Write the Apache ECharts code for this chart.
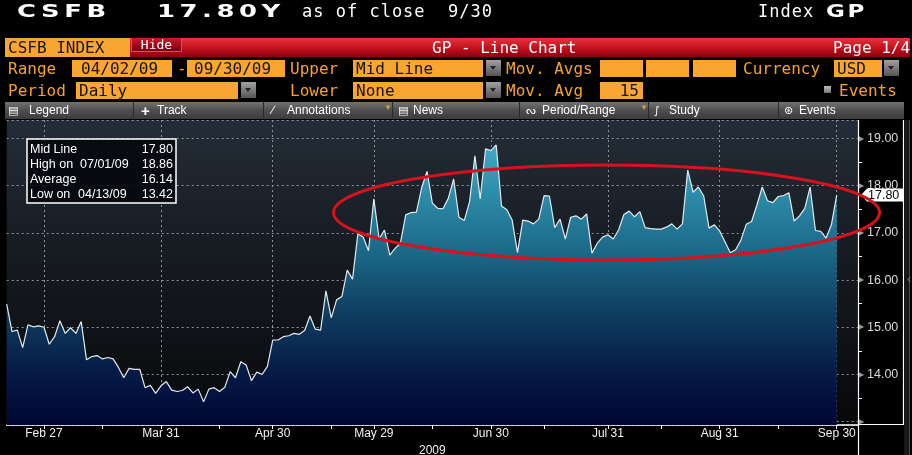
<!DOCTYPE html>
<html><head><meta charset="utf-8">
<script src="https://cdn.jsdelivr.net/npm/echarts@6/dist/echarts.min.js"></script>
<style>
html,body{margin:0;padding:0;background:#000;width:912px;height:455px;overflow:hidden;}
#chart{position:absolute;left:0;top:0;width:912px;height:455px;z-index:0;}
.a{position:absolute;white-space:pre;z-index:10;}
.mono{font-family:"DejaVu Sans Mono",monospace;}
.hdr{color:#fff;font-size:17px;line-height:17px;top:3px;}
.big{font-family:"DejaVu Sans",sans-serif;font-weight:bold;letter-spacing:3px;transform:scaleX(1.52);transform-origin:left top;}
.lab{color:#f7a22c;font-size:16px;line-height:17px;}
.fld{background:#f9a531;color:#141414;font-size:16px;line-height:17px;height:17px;box-sizing:border-box;}
.dd{background:linear-gradient(#a0a0a0,#555);width:15px;height:16px;}
.dd:after{content:'';position:absolute;left:4px;top:6px;border-left:3.5px solid transparent;border-right:3.5px solid transparent;border-top:4px solid #222;}
.tb{color:#fff;font-family:"Liberation Sans",Arial,sans-serif;font-size:12px;line-height:17px;top:102px;}
.sep{position:absolute;top:102px;width:1px;height:17px;background:#2a2a2a;z-index:11;}
.ico{font-family:"DejaVu Sans",sans-serif;font-size:11px;}
.tri{color:#c9a040;font-size:8px;top:103px;}
</style></head>
<body>
<div id="chart"></div>

<!-- header -->
<div class="a hdr big" style="left:17px;">CSFB</div>
<div class="a hdr big" style="left:157px;">17.80Y</div>
<div class="a hdr mono" style="left:302px;letter-spacing:1px;">as of close  9/30</div>
<div class="a hdr mono" style="left:758px;letter-spacing:1px;">Index</div>
<div class="a hdr big" style="left:826px;letter-spacing:2px;transform:scaleX(1.35);">GP</div>

<!-- red title bar -->
<div class="a" style="left:5px;top:38px;width:905px;height:19px;background:linear-gradient(#e5343c,#c0101c 55%,#8c0010);"></div>
<div class="a mono" style="left:5px;top:38px;width:125px;height:19px;background:#f9a531;color:#141414;font-size:16px;line-height:19px;padding-left:3px;box-sizing:border-box;">CSFB INDEX</div>
<div class="a mono" style="left:131px;top:38px;width:51px;height:14px;background:linear-gradient(#c81a28,#7a0010);border:1px solid #d85060;border-top:none;color:#fff;font-size:13px;line-height:14px;text-align:center;box-sizing:border-box;">Hide</div>
<div class="a mono" style="left:432px;top:38px;color:#fff;font-size:16px;line-height:19px;">GP - Line Chart</div>
<div class="a mono" style="left:833px;top:38px;color:#fff;font-size:16px;line-height:19px;">Page 1/4</div>

<!-- row 2 -->
<div class="a mono lab" style="left:8px;top:60px;">Range</div>
<div class="a mono fld" style="left:72px;top:60px;width:100px;padding-left:9px;">04/02/09</div>
<div class="a mono lab" style="left:177px;top:60px;">-</div>
<div class="a mono fld" style="left:187px;top:60px;width:98px;padding-left:7px;">09/30/09</div>
<div class="a mono lab" style="left:290px;top:60px;">Upper</div>
<div class="a mono fld" style="left:353px;top:60px;width:130px;padding-left:3px;">Mid Line</div>
<div class="a dd" style="left:486px;top:60px;"></div>
<div class="a mono lab" style="left:506px;top:60px;">Mov. Avgs</div>
<div class="a mono fld" style="left:600px;top:60px;width:43px;"></div>
<div class="a mono fld" style="left:646px;top:60px;width:43px;"></div>
<div class="a mono fld" style="left:693px;top:60px;width:43px;"></div>
<div class="a mono lab" style="left:743px;top:60px;">Currency</div>
<div class="a mono fld" style="left:834px;top:60px;width:48px;padding-left:3px;">USD</div>
<div class="a dd" style="left:884px;top:60px;"></div>

<!-- row 3 -->
<div class="a mono lab" style="left:8px;top:82px;">Period</div>
<div class="a mono fld" style="left:76px;top:82px;width:162px;padding-left:3px;">Daily</div>
<div class="a dd" style="left:241px;top:82px;"></div>
<div class="a mono lab" style="left:290px;top:82px;">Lower</div>
<div class="a mono fld" style="left:353px;top:82px;width:130px;padding-left:3px;">None</div>
<div class="a dd" style="left:486px;top:82px;"></div>
<div class="a mono lab" style="left:506px;top:82px;">Mov. Avg</div>
<div class="a mono fld" style="left:600px;top:82px;width:43px;text-align:right;padding-right:4px;">15</div>
<div class="a" style="left:824px;top:86px;width:7px;height:7px;background:linear-gradient(#bbb,#777);"></div>
<div class="a mono lab" style="left:839px;top:82px;">Events</div>

<!-- toolbar -->
<div class="a" style="left:5px;top:102px;width:899px;height:17px;background:linear-gradient(#727272,#4e4e4e 50%,#3c3c3c);"></div>
<div class="a tb ico" style="left:8px;">▤</div>
<div class="a tb" style="left:29px;">Legend</div>
<div class="sep" style="left:133px;"></div>
<div class="a tb" style="left:141px;font-size:15px;font-weight:bold;">+</div>
<div class="a tb" style="left:157px;">Track</div>
<div class="sep" style="left:263px;"></div>
<div class="a tb" style="left:272px;">∕</div>
<div class="a tb" style="left:287px;">Annotations</div>
<div class="a tri" style="left:384px;">▼</div>
<div class="sep" style="left:392px;"></div>
<div class="a tb ico" style="left:398px;">▤</div>
<div class="a tb" style="left:413px;">News</div>
<div class="sep" style="left:519px;"></div>
<div class="a tb ico" style="left:526px;">ᔓ</div>
<div class="a tb" style="left:542px;">Period/Range</div>
<div class="a tri" style="left:640px;">▼</div>
<div class="sep" style="left:648px;"></div>
<div class="a tb ico" style="left:654px;">∫</div>
<div class="a tb" style="left:669px;">Study</div>
<div class="sep" style="left:778px;"></div>
<div class="a tb ico" style="left:784px;">⊛</div>
<div class="a tb" style="left:799px;">Events</div>

<!-- right strip -->
<div class="a" style="left:904px;top:120px;width:5px;height:335px;background:#171717;"></div>
<div class="a" style="left:909px;top:120px;width:1px;height:335px;background:#4a4a4a;"></div>
<div class="a" style="left:907px;top:271px;color:#777;font-family:'Liberation Sans';font-size:13px;">‹</div>

<svg class="a" style="left:0;top:0;z-index:6;pointer-events:none;" width="912" height="455">
  <ellipse cx="606.5" cy="212.5" rx="273" ry="47.5" fill="none" stroke="#d8121c" stroke-width="3"/>
</svg>

<script>
// ---- data ----
const tickIndex  = [7, 29, 50, 69, 91, 113, 134, 156];
const tickLabels = ['Feb 27', 'Mar 31', 'Apr 30', 'May 29', 'Jun 30', 'Jul 31', 'Aug 31', 'Sep 30'];
const midMonthIndex = [18, 40, 61, 80, 101, 123, 145];
const axisYear = '2009';
const slotCount = 161;           // trading-day slots across the plot
const categories = Array.from({length: slotCount}, (_, i) => 'd' + i);

const midLine = [
  15.49, 14.91, 14.94, 14.57, 15.05, 15.01, 15.03, 15.00, 14.64, 14.80,
  15.14, 14.87, 14.99, 14.87, 15.12, 14.31, 14.38, 14.40, 14.33, 14.36,
  14.33, 14.15, 13.93, 14.13, 14.11, 14.11, 13.72, 13.77, 13.60, 13.76,
  13.85, 13.67, 13.64, 13.66, 13.74, 13.61, 13.69, 13.42, 13.69, 13.72,
  13.64, 13.73, 14.06, 13.93, 14.27, 14.20, 13.87, 14.05, 14.00, 14.17,
  14.73, 14.73, 14.80, 14.82, 14.87, 14.85, 14.93, 15.24, 14.96, 14.94,
  15.77, 15.20, 15.58, 15.65, 16.21, 16.02, 16.98, 16.91, 16.62, 17.72,
  16.87, 17.06, 16.53, 16.67, 16.78, 17.38, 17.43, 17.44, 17.96, 18.30,
  17.63, 17.52, 17.51, 17.73, 18.14, 17.33, 17.26, 17.66, 18.63, 17.72,
  18.78, 18.74, 18.86, 17.57, 17.49, 17.27, 16.58, 17.27, 17.25, 17.19,
  17.29, 17.79, 17.78, 17.11, 17.29, 16.87, 17.33, 17.36, 17.29, 17.40,
  16.57, 16.78, 16.91, 16.96, 16.87, 17.06, 17.39, 17.46, 17.34, 17.45,
  17.11, 17.09, 17.08, 17.08, 17.12, 17.19, 17.08, 17.19, 18.33, 17.86,
  17.97, 17.78, 17.10, 17.17, 17.04, 16.81, 16.58, 16.64, 16.85, 17.18,
  17.24, 17.59, 17.97, 17.68, 17.64, 17.77, 17.79, 17.85, 17.25, 17.36,
  17.52, 17.97, 17.05, 17.03, 16.89, 17.17, 17.80
];
const lastValue = 17.80;
const statNames  = ['Mid Line', 'High on', 'Average', 'Low on'];
const statDates  = ['', '07/01/09', '', '04/13/09'];
const statValues = ['17.80', '18.86', '16.14', '13.42'];
const yMin = 12.93, yMax = 19.39;

// ---- chart ----
const G = echarts.graphic;
const chart = echarts.init(document.getElementById('chart'), null, {renderer: 'canvas'});
const font = '"Liberation Sans", Arial, sans-serif';

const legendEls = [{
  type: 'rect', shape: {x: 27, y: 139, width: 149, height: 64},
  style: {fill: 'rgba(5,7,11,0.88)', stroke: '#ffffff', lineWidth: 1.5}, z: 20
}];
statNames.forEach((n, i) => {
  const y = 149.5 + i * 15;
  legendEls.push({type: 'text', x: 30, y: y, z: 21,
    style: {text: n, fill: '#fff', font: '12.5px ' + font, textVerticalAlign: 'middle', verticalAlign: 'middle'}});
  if (statDates[i]) legendEls.push({type: 'text', x: i === 1 ? 80 : 78, y: y, z: 21,
    style: {text: statDates[i], fill: '#fff', font: '12.5px ' + font, textVerticalAlign: 'middle', verticalAlign: 'middle'}});
  legendEls.push({type: 'text', x: 173, y: y, z: 21,
    style: {text: statValues[i], fill: '#fff', font: '12.5px ' + font, textAlign: 'right', align: 'right', textVerticalAlign: 'middle', verticalAlign: 'middle'}});
});
const frameEls = [
  {type: 'line', shape: {x1: 858.5, y1: 120, x2: 858.5, y2: 455}, style: {stroke: '#fff', lineWidth: 1.2}, z: 15},
  {type: 'line', shape: {x1: 903.5, y1: 120, x2: 903.5, y2: 424}, style: {stroke: '#fff', lineWidth: 1.2}, z: 15},
  {type: 'line', shape: {x1: 858, y1: 424.5, x2: 904, y2: 424.5}, style: {stroke: '#fff', lineWidth: 1.2}, z: 15}
];

const dash = {type: [2, 3], color: '#8d939b', width: 1};

chart.setOption({
  backgroundColor: '#000',
  animation: false,
  grid: {
    left: 6.7, right: 54, top: 120, bottom: 30, show: true, borderWidth: 0,
    containLabel: false, outerBoundsMode: 'none',
    backgroundColor: new G.LinearGradient(0, 0, 0, 1, [
      {offset: 0, color: '#232c37'}, {offset: 0.5, color: '#15191f'}, {offset: 1, color: '#07080a'}
    ])
  },
  xAxis: {
    type: 'category', data: categories, boundaryGap: false,
    axisLine: {lineStyle: {color: '#ffffff', width: 1.5}},
    axisTick: {
      interval: (i) => tickIndex.includes(i) || midMonthIndex.includes(i),
      length: 4, lineStyle: {color: '#ffffff'}
    },
    axisLabel: {
      interval: (i) => tickIndex.includes(i),
      formatter: (v, i) => { const k = tickIndex.indexOf(i); return k >= 0 ? tickLabels[k] : ''; },
      color: '#f2f2f2', fontSize: 12, fontFamily: font, margin: 3
    },
    splitLine: {show: true, interval: (i) => tickIndex.includes(i), lineStyle: dash},
    name: axisYear, nameLocation: 'middle', nameGap: 16,
    nameTextStyle: {color: '#f2f2f2', fontSize: 12, fontFamily: font}
  },
  yAxis: {
    type: 'value', position: 'right', min: yMin, max: yMax, splitNumber: 6, scale: true,
    axisLine: {show: false}, axisTick: {show: false},
    minorTick: {show: true, splitNumber: 2, length: 4, lineStyle: {color: '#ffffff'}},
    splitLine: {lineStyle: dash},
    axisLabel: {
      showMinLabel: false, showMaxLabel: false, margin: 0,
      formatter: (v) => Math.abs(v - 13) < 1e-6 ? '{t|▶}' : '{t|▶}{v|' + v.toFixed(2) + '}',
      rich: {
        t: {color: '#9a9a9a', fontSize: 8, padding: [0, 3, 0, 0]},
        v: {color: '#dadada', fontSize: 12.5, fontFamily: font}
      }
    }
  },
  series: [{
    type: 'line', data: midLine, symbol: 'none', z: 3,
    lineStyle: {color: '#e2eaf0', width: 1.2},
    areaStyle: {
      origin: 'start', opacity: 1,
      color: new G.LinearGradient(0, 0, 0, 1, [
        {offset: 0, color: '#40aac6'}, {offset: 0.2, color: '#2a88a5'},
        {offset: 0.4, color: '#1a6584'}, {offset: 0.6, color: '#0f3e61'},
        {offset: 0.8, color: '#061c47'}, {offset: 1, color: '#010632'}
      ])
    }
  }],
  graphic: legendEls.concat(frameEls)
});

// last-value flag on the right axis, positioned through the y-axis scale
const yLast = chart.convertToPixel({yAxisIndex: 0}, lastValue);
const flagEls = [
  {type: 'polygon', z: 30,
    shape: {points: [[861, yLast], [867, yLast - 6.5], [903, yLast - 6.5], [903, yLast + 6.5], [867, yLast + 6.5]]},
    style: {fill: '#ffffff'}},
  {type: 'text', x: 868, y: yLast + 0.5, z: 31,
    style: {text: lastValue.toFixed(2), fill: '#000', font: '12.5px ' + font,
      textVerticalAlign: 'middle', verticalAlign: 'middle'}}
];
chart.setOption({graphic: legendEls.concat(frameEls, flagEls)});
</script>
</body></html>
